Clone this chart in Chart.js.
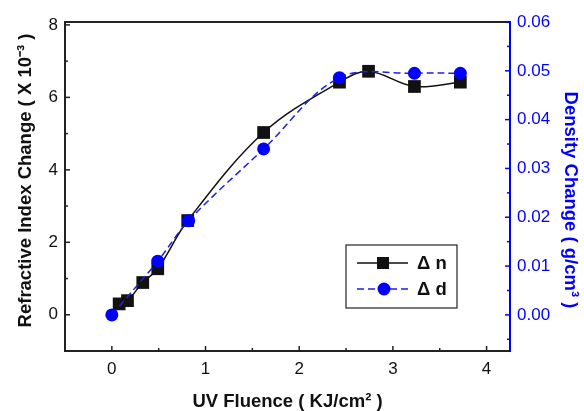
<!DOCTYPE html>
<html>
<head>
<meta charset="utf-8">
<script src="https://cdn.jsdelivr.net/npm/chart.js@4"></script>
<style>
  html, body { margin: 0; padding: 0; background: #fff; }
  canvas { display: block; }
</style>
</head>
<body>
<canvas id="chart" width="584" height="411"></canvas>
<script>
// refractive index change (x10^-3) vs UV fluence
const fluenceN = [0.078, 0.167, 0.33, 0.49, 0.81, 1.62, 2.43, 2.74, 3.23, 3.72];
const deltaN = [0.3, 0.39, 0.89, 1.27, 2.6, 5.03, 6.42, 6.72, 6.3, 6.42];
// density change (g/cm^3) vs UV fluence
const fluenceD = [0, 0.49, 0.82, 1.62, 2.43, 3.23, 3.72];
const deltaD = [0, 0.011, 0.0193, 0.034, 0.0486, 0.0495, 0.0495];

const xTicks = [0, 1, 2, 3, 4];
const nTicks = [0, 2, 4, 6, 8];
const dTicks = [0, 0.01, 0.02, 0.03, 0.04, 0.05, 0.06];

const FONT = "'Liberation Sans', Arial, sans-serif";
const BLUE = '#0000ff';

const toPoints = (xs, ys) => xs.map((x, i) => ({ x: x, y: ys[i] }));

// inward major/minor ticks, top frame line, y titles and the boxed legend
const decor = {
  id: 'decor',
  afterDraw(chart) {
    const { ctx, chartArea: a, scales } = chart;
    ctx.save();
    ctx.lineWidth = 2;
    ctx.strokeStyle = '#222';
    ctx.beginPath();
    ctx.moveTo(a.left - 1, a.top);
    ctx.lineTo(a.right, a.top);
    ctx.stroke();

    const marks = (scale, majors, color, dir) => {
      const step = majors[1] - majors[0];
      ctx.strokeStyle = color;
      ctx.lineWidth = 1.5;
      const all = [];
      majors.forEach(v => all.push([v, 5]));
      for (let v = majors[0] - step / 2; v <= scale.max + 1e-9; v += step) {
        if (v >= scale.min - 1e-9) all.push([v, 3]);
      }
      all.forEach(([v, len]) => {
        const p = scale.getPixelForValue(v);
        ctx.beginPath();
        if (dir === 'up') { ctx.moveTo(p, a.bottom); ctx.lineTo(p, a.bottom - len); }
        if (dir === 'right') { ctx.moveTo(a.left, p); ctx.lineTo(a.left + len, p); }
        if (dir === 'left') { ctx.moveTo(a.right, p); ctx.lineTo(a.right - len, p); }
        ctx.stroke();
      });
    };
    marks(scales.x, xTicks, '#222', 'up');
    marks(scales.yN, nTicks, '#222', 'right');
    marks(scales.yD, dTicks, BLUE, 'left');

    // rotated axis titles
    ctx.font = 'bold 18.5px ' + FONT;
    ctx.textAlign = 'center';
    ctx.textBaseline = 'middle';
    ctx.save();
    ctx.translate(25.5, 180.5);
    ctx.rotate(-Math.PI / 2);
    ctx.fillStyle = '#111';
    ctx.fillText('Refractive Index Change ( X 10\u207b\u00b3 )', 0, 0);
    ctx.restore();
    ctx.save();
    ctx.translate(570, 200);
    ctx.rotate(Math.PI / 2);
    ctx.fillStyle = BLUE;
    ctx.fillText('Density Change ( g/cm\u00b3 )', 0, 0);
    ctx.restore();

    // legend
    const bx = a.right - 164, by = a.top + 223, bw = 111, bh = 63;
    ctx.lineWidth = 1.2;
    ctx.strokeStyle = '#222';
    ctx.strokeRect(bx, by, bw, bh);
    ctx.textAlign = 'left';
    chart.data.datasets.forEach((ds, i) => {
      const y = by + 18 + i * 26;
      ctx.strokeStyle = ds.borderColor;
      ctx.lineWidth = ds.borderWidth;
      ctx.setLineDash(ds.borderDash || []);
      ctx.beginPath();
      ctx.moveTo(bx + 11, y);
      ctx.lineTo(bx + 62, y);
      ctx.stroke();
      ctx.setLineDash([]);
      ctx.fillStyle = ds.pointBackgroundColor;
      ctx.beginPath();
      if (ds.pointStyle === 'rect') {
        ctx.rect(bx + 37 - 6, y - 6, 12, 12);
      } else {
        ctx.arc(bx + 38, y, 6.5, 0, Math.PI * 2);
      }
      ctx.fill();
      ctx.fillStyle = '#111';
      ctx.fillText(ds.label, bx + 71, y + 1);
    });
    ctx.restore();
  }
};

new Chart(document.getElementById('chart'), {
  type: 'line',
  data: {
    datasets: [
      {
        label: '\u0394 n',
        data: toPoints(fluenceN, deltaN),
        yAxisID: 'yN',
        borderColor: '#111',
        borderWidth: 1.5,
        pointStyle: 'rect',
        pointRadius: 9,
        pointBorderWidth: 0,
        pointBackgroundColor: '#111',
        tension: 0.35,
        order: 1
      },
      {
        label: '\u0394 d',
        data: toPoints(fluenceD, deltaD),
        yAxisID: 'yD',
        borderColor: '#2020e0',
        borderWidth: 1.5,
        borderDash: [7, 4],
        pointStyle: 'circle',
        pointRadius: 6.5,
        pointBorderWidth: 0,
        pointBackgroundColor: BLUE,
        tension: 0.35,
        order: 0
      }
    ]
  },
  options: {
    responsive: false,
    animation: false,
    layout: { padding: { top: 22, left: 0, right: 0, bottom: 0 } },
    plugins: { legend: { display: false }, tooltip: { enabled: false } },
    scales: {
      x: {
        type: 'linear',
        min: -0.5,
        max: 4.25,
        afterFit: s => { s.height = 60; },
        afterBuildTicks: s => { s.ticks = xTicks.map(v => ({ value: v })); },
        grid: { drawOnChartArea: false, drawTicks: false },
        border: { color: '#222', width: 2 },
        ticks: { color: '#111', padding: 8, font: { family: FONT, size: 17 } },
        title: {
          display: true,
          text: 'UV Fluence ( KJ/cm\u00b2 )',
          color: '#111',
          padding: { top: 0, bottom: 0 },
          font: { family: FONT, size: 18.5, weight: 'bold', lineHeight: 1 }
        }
      },
      yN: {
        position: 'left',
        min: -1,
        max: 8.08,
        afterFit: s => { s.width = 65; },
        afterBuildTicks: s => { s.ticks = nTicks.map(v => ({ value: v })); },
        grid: { drawOnChartArea: false, drawTicks: false },
        border: { color: '#222', width: 2 },
        ticks: { color: '#111', padding: 7, font: { family: FONT, size: 17 } }
      },
      yD: {
        position: 'right',
        min: -0.0074,
        max: 0.06,
        afterFit: s => { s.width = 74; },
        afterBuildTicks: s => { s.ticks = dTicks.map(v => ({ value: v })); },
        grid: { drawOnChartArea: false, drawTicks: false },
        border: { color: BLUE, width: 2 },
        ticks: {
          color: BLUE,
          padding: 7,
          font: { family: FONT, size: 17 },
          callback: v => v.toFixed(2)
        }
      }
    }
  },
  plugins: [decor]
});
</script>
</body>
</html>
